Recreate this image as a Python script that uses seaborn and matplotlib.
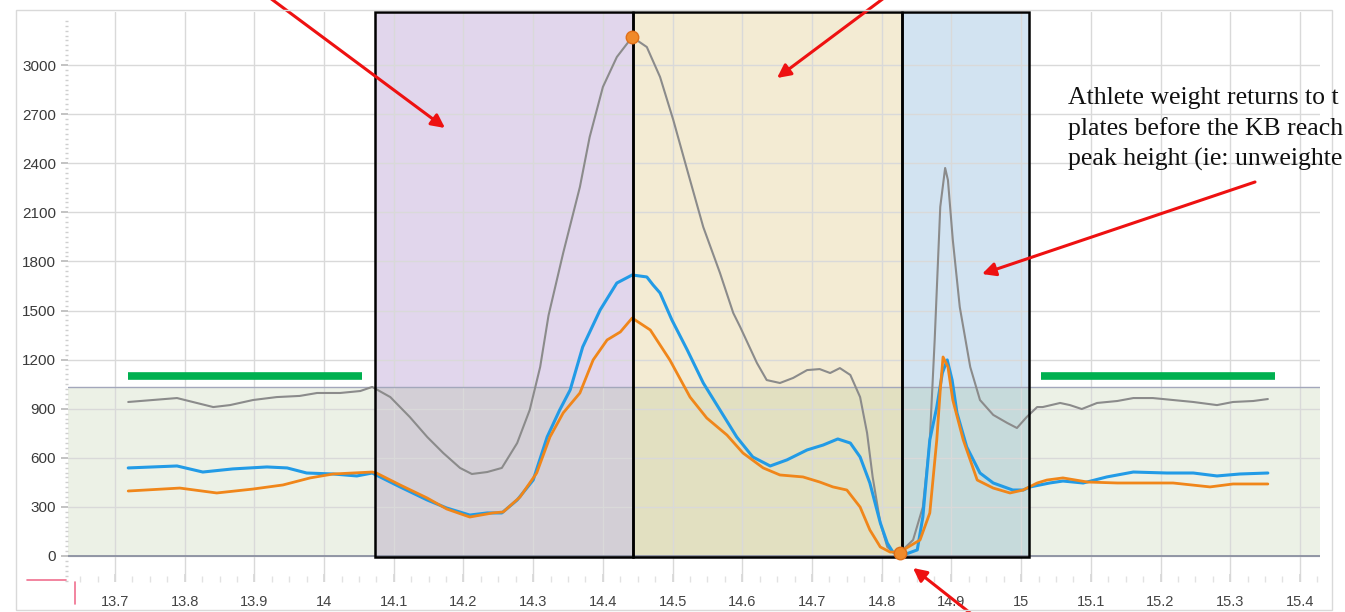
import numpy as np
import pandas as pd
import seaborn as sns
import matplotlib.pyplot as plt
from matplotlib.patches import Rectangle
from matplotlib.lines import Line2D

# --- data (time in s, force in N) ---
t_total = [13.719, 13.789, 13.841, 13.865, 13.898, 13.932, 13.965, 13.990, 14.023, 14.052,
           14.069, 14.095, 14.123, 14.148, 14.171, 14.195, 14.212, 14.234, 14.255, 14.277,
           14.295, 14.310, 14.322, 14.343, 14.367, 14.381, 14.400, 14.420, 14.442, 14.463,
           14.482, 14.501, 14.521, 14.544, 14.568, 14.587, 14.597, 14.621, 14.635, 14.654,
           14.673, 14.693, 14.711, 14.726, 14.740, 14.755, 14.769, 14.779, 14.787, 14.798,
           14.808, 14.816, 14.826, 14.845, 14.859, 14.869, 14.876, 14.884, 14.891, 14.895,
           14.902, 14.912, 14.927, 14.941, 14.960, 14.980, 14.994, 15.008, 15.023, 15.031,
           15.056, 15.070, 15.087, 15.109, 15.138, 15.161, 15.189, 15.218, 15.247, 15.281,
           15.304, 15.333, 15.354]
total_force = [941, 965, 910, 922, 953, 971, 978, 996, 996, 1008,
               1033, 971, 849, 727, 629, 538, 501, 513, 538, 690,
               892, 1155, 1470, 1851, 2255, 2560, 2866, 3049, 3171, 3110,
               2927, 2664, 2358, 2010, 1729, 1485, 1399, 1179, 1075, 1057,
               1088, 1136, 1142, 1118, 1148, 1106, 971, 752, 483, 202,
               55, 24, 20, 98, 299, 709, 1320, 2133, 2371, 2297,
               1931, 1521, 1155, 953, 862, 813, 782, 849, 910, 910,
               935, 922, 898, 935, 947, 965, 965, 953, 941, 922,
               941, 947, 959]

t_left = [13.719, 13.789, 13.826, 13.869, 13.918, 13.947, 13.975, 14.013, 14.047, 14.069,
          14.109, 14.148, 14.176, 14.209, 14.234, 14.255, 14.277, 14.300, 14.320, 14.338,
          14.353, 14.371, 14.396, 14.420, 14.442, 14.463, 14.472, 14.482, 14.499, 14.521,
          14.544, 14.568, 14.592, 14.615, 14.640, 14.664, 14.693, 14.716, 14.737, 14.755,
          14.769, 14.783, 14.798, 14.808, 14.816, 14.831, 14.851, 14.859, 14.869, 14.879,
          14.887, 14.894, 14.901, 14.908, 14.922, 14.941, 14.960, 14.988, 15.003, 15.013,
          15.041, 15.060, 15.089, 15.123, 15.161, 15.209, 15.247, 15.281, 15.314, 15.354]
left_force = [538, 550, 513, 532, 544, 538, 507, 501, 489, 507,
              422, 342, 293, 250, 263, 263, 342, 464, 727, 892,
              1014, 1277, 1503, 1668, 1717, 1705, 1656, 1607, 1442, 1259,
              1057, 892, 727, 605, 550, 587, 648, 678, 715, 690,
              605, 446, 202, 79, 24, 6, 37, 238, 709, 910,
              1118, 1198, 1075, 874, 666, 507, 446, 403, 403, 422,
              446, 458, 446, 483, 513, 507, 507, 489, 501, 507]

t_right = [13.719, 13.793, 13.846, 13.898, 13.941, 13.980, 14.013, 14.041, 14.069, 14.075,
           14.109, 14.148, 14.176, 14.209, 14.242, 14.257, 14.281, 14.305, 14.324, 14.343,
           14.367, 14.386, 14.406, 14.425, 14.442, 14.468, 14.496, 14.525, 14.549, 14.578,
           14.601, 14.630, 14.654, 14.687, 14.711, 14.730, 14.750, 14.769, 14.783, 14.798,
           14.812, 14.822, 14.831, 14.855, 14.869, 14.879, 14.884, 14.888, 14.895, 14.902,
           14.917, 14.937, 14.960, 14.984, 15.003, 15.023, 15.037, 15.060, 15.095, 15.138,
           15.185, 15.218, 15.271, 15.304, 15.354]
right_force = [397, 415, 385, 409, 434, 477, 501, 507, 513, 507,
               434, 354, 287, 238, 263, 269, 360, 507, 727, 874,
               996, 1198, 1320, 1369, 1454, 1381, 1198, 971, 843, 739,
               629, 538, 495, 483, 452, 422, 403, 299, 159, 55,
               24, 24, 37, 98, 263, 709, 1014, 1216, 1155, 953,
               709, 464, 415, 385, 403, 446, 464, 477, 452, 446,
               446, 446, 422, 440, 440]

# phases: start/end times and fill colours
phase_edges = [14.073, 14.443, 14.829, 15.011]
phase_colors = ['#e1d6ec', '#f3ebd3', '#d2e3f1']

body_weight = 1033
baseline_bars = [(13.719, 14.054), (15.029, 15.364)]
baseline_level = 1100

peak_marks_t = [14.442, 14.826]
peak_marks_f = [3171, 20]

xtick_vals = [13.7, 13.8, 13.9, 14.0, 14.1, 14.2, 14.3, 14.4, 14.5, 14.6,
              14.7, 14.8, 14.9, 15.0, 15.1, 15.2, 15.3, 15.4]
xtick_labels = ['13.7', '13.8', '13.9', '14', '14.1', '14.2', '14.3', '14.4', '14.5', '14.6',
                '14.7', '14.8', '14.9', '15', '15.1', '15.2', '15.3', '15.4']
ytick_vals = [0, 300, 600, 900, 1200, 1500, 1800, 2100, 2400, 2700, 3000]

note_text = ("Athlete weight returns to t\n"
             "plates before the KB reach\n"
             "peak height (ie: unweighte")

sns.set_theme(style="white")
plt.rcParams['font.family'] = ['Liberation Sans', 'DejaVu Sans']

W, H = 1345, 612
fig = plt.figure(figsize=(W / 100, H / 100), dpi=100)
ax = fig.add_axes([68 / W, 1 - 582 / H, (1320 - 68) / W, (582 - 12) / H])
ax.set_xlim(13.6326, 15.4288)
ax.set_ylim(-159, 3324)

# phase boxes
for i, col in enumerate(phase_colors):
    x0, x1 = phase_edges[i], phase_edges[i + 1]
    ax.add_patch(Rectangle((x0, -6), x1 - x0, 3330, fc=col, ec='none', zorder=0.3))
    ax.add_patch(Rectangle((x0, -6), x1 - x0, 3330, fill=False, ec='black',
                           lw=1.8, zorder=3, clip_on=False))

# body-weight band
ax.axhspan(0, body_weight, color='#8aac69', alpha=0.16, lw=0, zorder=0.4)
ax.axhline(body_weight, color='#a3a7bb', lw=1, zorder=0.6)
ax.axhline(0, color='#8a8fa0', lw=1.3, zorder=0.6)

# traces
sns.lineplot(x=t_total, y=total_force, ax=ax, color='#8b8b8b', lw=1.5,
             estimator=None, sort=False, zorder=2)
sns.lineplot(x=t_left, y=left_force, ax=ax, color='#229be6', lw=2.2,
             estimator=None, sort=False, zorder=2.1)
sns.lineplot(x=t_right, y=right_force, ax=ax, color='#f0861a', lw=2.0,
             estimator=None, sort=False, zorder=2.2)

ax.plot(peak_marks_t, peak_marks_f, 'o', ms=9, color='#f08a2a', mec='#e0701a',
        zorder=4, clip_on=False)

for x0, x1 in baseline_bars:
    ax.plot([x0, x1], [baseline_level, baseline_level], color='#00b050', lw=5.5,
            solid_capstyle='butt', zorder=2.5)

# axes styling
ax.set_axisbelow(True)
ax.set_xticks(xtick_vals)
ax.set_xticklabels(xtick_labels)
ax.set_yticks(ytick_vals)
ax.set_xticks(np.arange(13.65, 15.43, 0.025), minor=True)
ax.set_yticks(np.arange(-150, 3300, 30), minor=True)
ax.grid(True, which='major', color='#d9d9d9', lw=1)
for s in ax.spines.values():
    s.set_visible(False)
ax.tick_params(axis='x', which='major', direction='in', length=6, color='#d8d8d8',
               pad=9, labelsize=10.5, labelcolor='#444444')
ax.tick_params(axis='x', which='minor', direction='in', length=4, color='#e2e2e2')
ax.tick_params(axis='y', which='major', direction='out', length=5, color='#bbbbbb',
               pad=3.5, labelsize=11, labelcolor='#3a3a3a')
ax.tick_params(axis='y', which='minor', direction='out', length=2, color='#cfcfcf')
ax.tick_params(bottom=True, left=True, which='both')
ax.set_xlabel('')
ax.set_ylabel('')

# red arrows pointing at the phases
arrow_kw = dict(arrowstyle='-|>', color='#ee1111', lw=2.2, mutation_scale=20,
                shrinkA=0, shrinkB=0)
arrows = [((266, -5), (445, 128)), ((888, -5), (777, 78)),
          ((1255, 182), (982, 274)), ((974, 616), (913, 568))]
for (tx, ty), (hx, hy) in arrows:
    ax.annotate('', xy=(hx, H - hy), xycoords='figure pixels',
                xytext=(tx, H - ty), textcoords='figure pixels',
                arrowprops=arrow_kw, annotation_clip=False)

fig.text(1068 / W, 1 - 87 / H, note_text, ha='left', va='top', fontsize=18.5,
         family=['Liberation Serif', 'DejaVu Serif'], color='#111111', linespacing=1.45)

# frame and small pink marks from the software canvas
fig.add_artist(Rectangle((16 / W, 2 / H), (1332 - 16) / W, (602 - 2) / H,
                         fill=False, ec='#d9d9d9', lw=1, transform=fig.transFigure))
fig.add_artist(Line2D([27 / W, 66 / W], [1 - 580 / H] * 2, color='#f0708f', lw=1.2))
fig.add_artist(Line2D([75 / W] * 2, [1 - 582 / H, 1 - 604 / H], color='#f0708f', lw=1.2))

fig.savefig('out.png', dpi=100)
